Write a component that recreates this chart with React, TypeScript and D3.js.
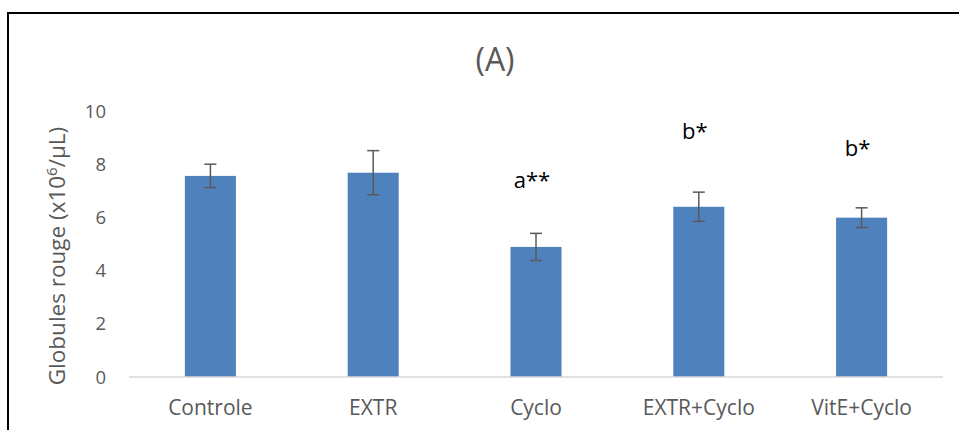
import React from 'react'
import * as d3 from 'd3'

const categories = ['Controle', 'EXTR', 'Cyclo', 'EXTR+Cyclo', 'VitE+Cyclo']
const means = [7.56, 7.68, 4.89, 6.4, 5.99]
const errors = [0.44, 0.83, 0.51, 0.55, 0.37]
const marks = ['', '', 'a**', 'b*', 'b*']
const markValues = [0, 0, 7.1, 8.95, 8.3]
const yTicks = [0, 2, 4, 6, 8, 10]

const W = 959
const H = 430
const margin = { top: 111, right: 16, bottom: 53, left: 129 }
const font = "'Open Sans', 'Noto Sans', sans-serif"
const grey = '#595959'

const App = () => {
  const innerWidth = W - margin.left - margin.right
  const innerHeight = H - margin.top - margin.bottom

  const xScale = d3.scaleBand().domain(categories).range([0, innerWidth]).paddingInner(0).paddingOuter(0)
  const barWidth = xScale.bandwidth() / 3.19
  const yScale = d3.scaleLinear().domain([0, 10]).range([innerHeight, 0])
  const cx = (c: string) => (xScale(c) as number) + xScale.bandwidth() / 2

  return (
    <svg width={W} height={H} style={{ position: 'absolute', left: 0, top: 0 }} fontFamily={font}>
      <rect x={0} y={0} width={W} height={H} fill='#fff' />
      {/* chart frame */}
      <path d={`M8,${H + 5} V13 H${W + 5}`} fill='none' stroke='#000' strokeWidth={2} />
      <text x={495} y={71} textAnchor='middle' fontSize={32} fill={grey}>
        (A)
      </text>
      <text
        transform={`translate(65, 256) rotate(-90)`}
        textAnchor='middle'
        fontSize={22.5}
        fill={grey}
      >
        Globules rouge (x10
        <tspan dy={-8} fontSize={15}>
          6
        </tspan>
        <tspan dy={8}>/µL)</tspan>
      </text>
      <g transform={`translate(${margin.left}, ${margin.top})`}>
        {yTicks.map((t) => (
          <text key={t} x={-23} y={yScale(t)} dy='0.36em' textAnchor='end' fontSize={18.5} fill={grey}>
            {t}
          </text>
        ))}
        {categories.map((c, i) => (
          <rect
            key={c}
            x={cx(c) - barWidth / 2}
            y={yScale(means[i])}
            width={barWidth}
            height={innerHeight - yScale(means[i])}
            fill='#4f81bd'
          />
        ))}
        <line x1={0} x2={innerWidth} y1={innerHeight} y2={innerHeight} stroke='#d9d9d9' strokeWidth={1.5} />
        {categories.map((c, i) => {
          const x = cx(c)
          const y1 = yScale(means[i] + errors[i])
          const y2 = yScale(means[i] - errors[i])
          return (
            <g key={c} stroke={grey} strokeWidth={1.5}>
              <line x1={x} x2={x} y1={y1} y2={y2} />
              <line x1={x - 6} x2={x + 6} y1={y1} y2={y1} />
              <line x1={x - 6} x2={x + 6} y1={y2} y2={y2} />
            </g>
          )
        })}
        {categories.map((c, i) =>
          marks[i] ? (
            <text key={c} x={cx(c) - 4} y={yScale(markValues[i])} textAnchor='middle' fontSize={22} fill='#000'>
              {marks[i]}
            </text>
          ) : null
        )}
        {categories.map((c) => (
          <text key={c} x={cx(c)} y={innerHeight + 38} textAnchor='middle' fontSize={21} fill={grey}>
            {c}
          </text>
        ))}
      </g>
    </svg>
  )
}

export default App
